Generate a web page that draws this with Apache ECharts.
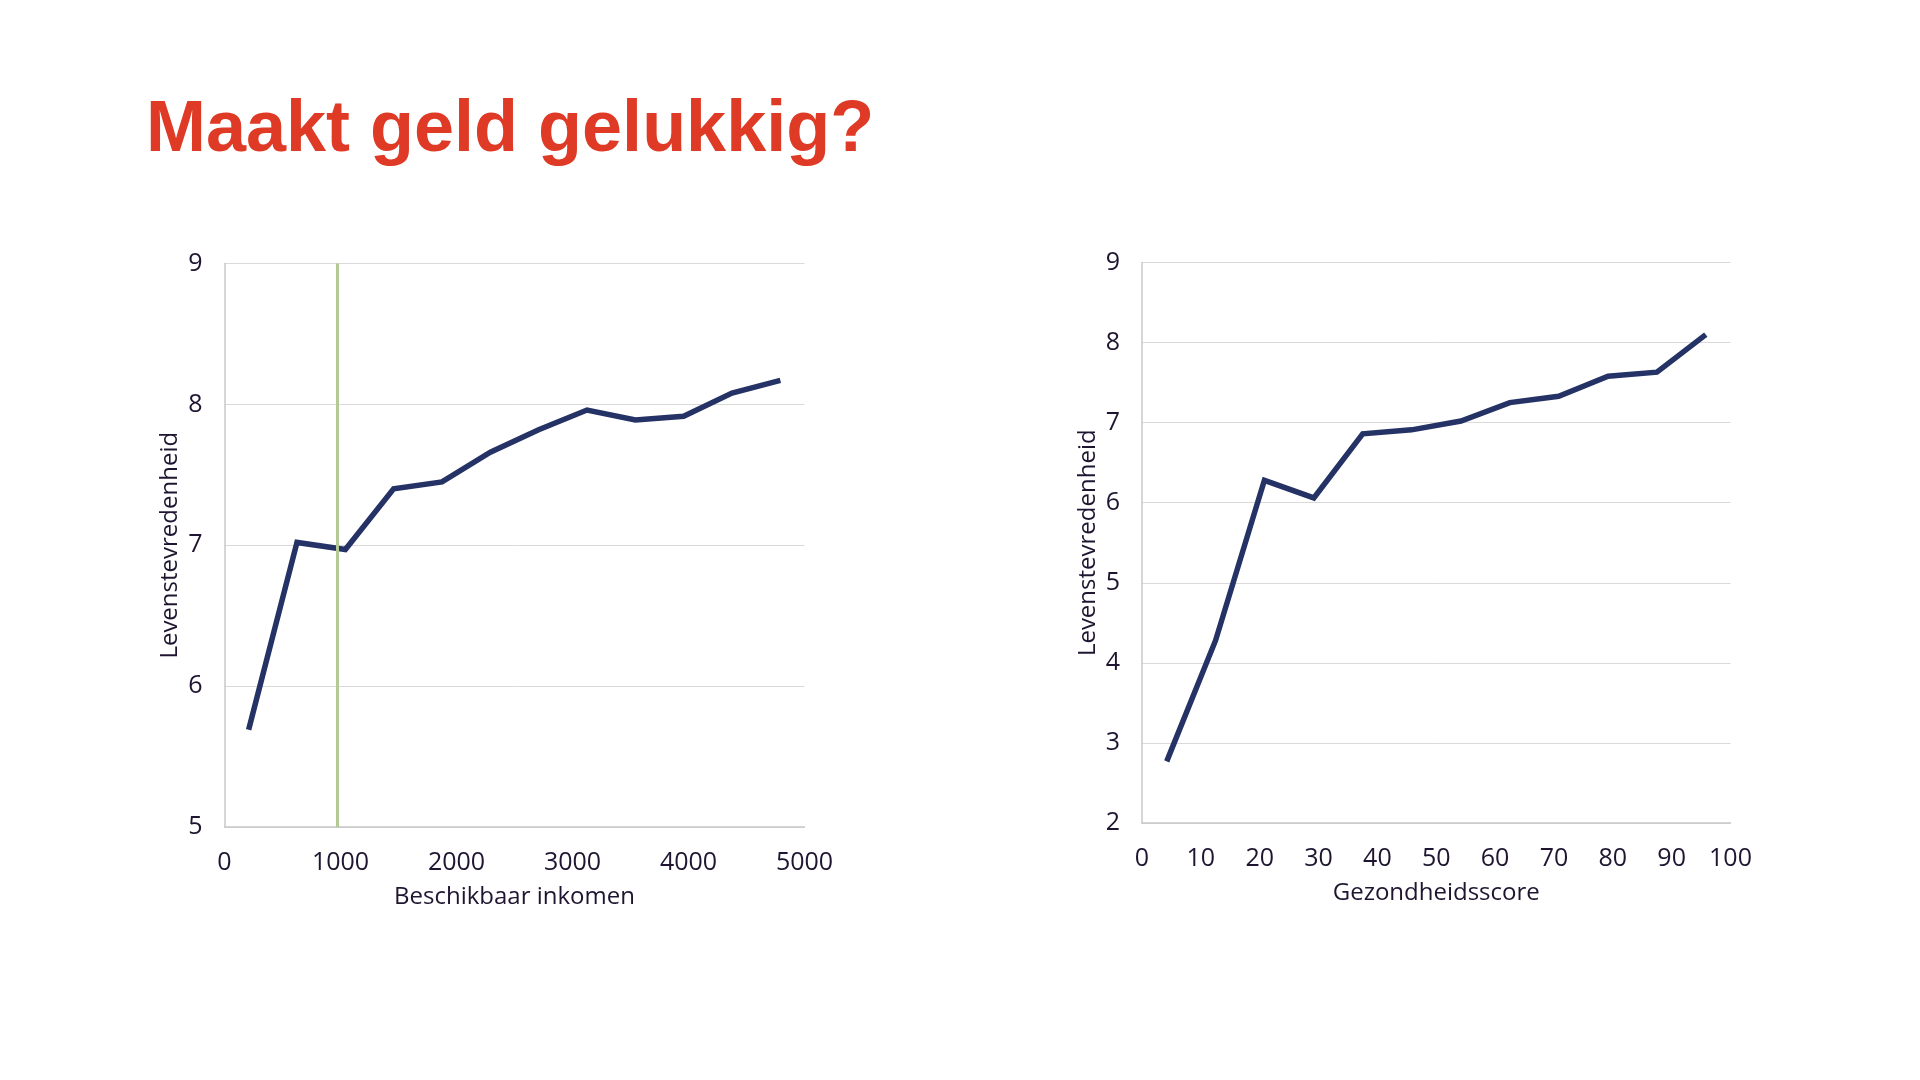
<!DOCTYPE html>
<html>
<head>
<meta charset="utf-8">
<script src="https://cdn.jsdelivr.net/npm/echarts@6/dist/echarts.min.js"></script>
<style>
html,body{margin:0;padding:0;background:#fff;}
#main{width:1920px;height:1080px;}
</style>
</head>
<body>
<div id="main"></div>
<script>
// Left chart: income vs life satisfaction
const incomeX = [208, 625, 1042, 1458, 1875, 2292, 2708, 3125, 3542, 3958, 4375, 4792];
const incomeY = [5.69, 7.02, 6.97, 7.40, 7.45, 7.66, 7.82, 7.96, 7.89, 7.915, 8.08, 8.17];
const incomeMarker = 970;
// Right chart: health score vs life satisfaction
const healthX = [4.2, 12.5, 20.8, 29.2, 37.5, 45.8, 54.2, 62.5, 70.8, 79.2, 87.5, 95.8];
const healthY = [2.77, 4.28, 6.28, 6.06, 6.86, 6.91, 7.02, 7.25, 7.33, 7.58, 7.63, 8.10];

const titleText = 'Maakt geld gelukkig?';
const yName = 'Levenstevredenheid';
const xNameLeft = 'Beschikbaar inkomen';
const xNameRight = 'Gezondheidsscore';

const textColor = '#1f1530';
const lineColor = '#253266';
const font = '"Open Sans", "Noto Sans", sans-serif';

function pairs(xs, ys){ return xs.map((x,i)=>[x, ys[i]]); }
const plain = v => String(v);

const axisLabel = {color: textColor, fontFamily: font, fontSize: 25, formatter: plain};
const nameStyle = {color: textColor, fontFamily: font, fontSize: 24};

const chart = echarts.init(document.getElementById('main'), null, {renderer:'canvas'});
chart.setOption({
  backgroundColor: '#ffffff',
  animation: false,
  title: {
    text: titleText,
    left: 141, top: 90,
    textStyle: {color: '#DF3A26', fontFamily: '"Liberation Sans", Arial, sans-serif', fontWeight: 'bold', fontSize: 72}
  },
  grid: [
    {left: 224.5, right: 1115.5, top: 263.5, bottom: 253},
    {left: 1142, right: 189.5, top: 262.5, bottom: 257}
  ],
  xAxis: [
    {gridIndex: 0, type: 'value', min: 0, max: 5000, interval: 1000,
     name: xNameLeft, nameLocation: 'middle', nameGap: 58, nameTextStyle: nameStyle,
     axisLine: {show: true, lineStyle: {color: '#c8c8c8', width: 1.5}},
     axisTick: {show: false}, splitLine: {show: false},
     axisLabel: Object.assign({margin: 23}, axisLabel)},
    {gridIndex: 1, type: 'value', min: 0, max: 100, interval: 10,
     name: xNameRight, nameLocation: 'middle', nameGap: 58, nameTextStyle: nameStyle,
     axisLine: {show: true, lineStyle: {color: '#c8c8c8', width: 1.5}},
     axisTick: {show: false}, splitLine: {show: false},
     axisLabel: Object.assign({margin: 23}, axisLabel)}
  ],
  yAxis: [
    {gridIndex: 0, type: 'value', min: 5, max: 9, interval: 1,
     name: yName, nameLocation: 'middle', nameGap: 42, nameRotate: 90, nameTextStyle: nameStyle,
     axisLine: {show: true, lineStyle: {color: '#c8c8c8', width: 1.5}},
     axisTick: {show: false},
     splitLine: {show: true, lineStyle: {color: '#dadada', width: 1}},
     axisLabel: Object.assign({margin: 22}, axisLabel)},
    {gridIndex: 1, type: 'value', min: 2, max: 9, interval: 1,
     name: yName, nameLocation: 'middle', nameGap: 42, nameRotate: 90, nameTextStyle: nameStyle,
     axisLine: {show: true, lineStyle: {color: '#c8c8c8', width: 1.5}},
     axisTick: {show: false},
     splitLine: {show: true, lineStyle: {color: '#dadada', width: 1}},
     axisLabel: Object.assign({margin: 22}, axisLabel)}
  ],
  series: [
    {type: 'line', xAxisIndex: 0, yAxisIndex: 0, data: pairs(incomeX, incomeY),
     showSymbol: false, symbol: 'none', lineStyle: {color: lineColor, width: 5.5, join: 'miter'},
     markLine: {silent: true, symbol: 'none', label: {show: false},
       lineStyle: {color: '#b3ca96', width: 3, type: 'solid'},
       data: [{xAxis: incomeMarker}]},
     z: 3},
    {type: 'line', xAxisIndex: 1, yAxisIndex: 1, data: pairs(healthX, healthY),
     showSymbol: false, symbol: 'none', lineStyle: {color: lineColor, width: 5.5, join: 'miter'}, z: 3}
  ]
});
</script>
</body>
</html>
